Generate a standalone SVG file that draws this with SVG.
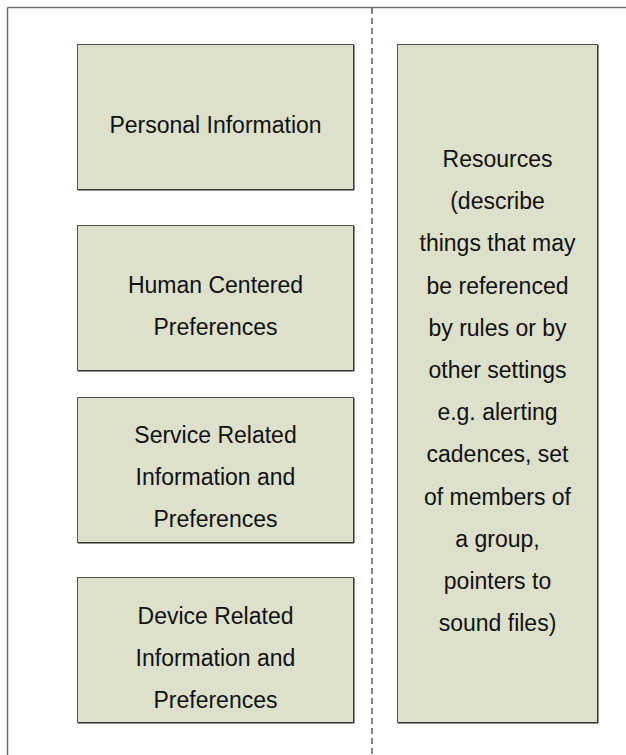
<svg xmlns="http://www.w3.org/2000/svg" width="626" height="755" viewBox="0 0 626 755">
<style>
.box{fill:#dde0cb;stroke:#505050;stroke-width:1}
.shadow{fill:none;stroke:#222;stroke-width:1}
.t{font-family:"Liberation Sans",Arial,sans-serif;font-size:23px;fill:#111;text-anchor:middle}
</style>
<rect width="626" height="755" fill="#fff"/>
<g id="frame">
<line x1="7.5" y1="7.5" x2="626" y2="7.5" stroke="#6e6e6e" stroke-width="1.5"/>
<line x1="7.5" y1="7.5" x2="7.5" y2="755" stroke="#6e6e6e" stroke-width="1.5"/>
</g>
<g id="connectors">
<line x1="372" y1="8" x2="372" y2="755" stroke="#333" stroke-width="1.2" stroke-dasharray="6 4"/>
</g>
<g id="personal">
<rect class="box" x="77.5" y="44.5" width="276" height="145"/>
<polyline class="shadow" points="354,45 354,190 78,190"/>
<text class="t" x="215.5" y="133">Personal Information</text>
</g>
<g id="human">
<rect class="box" x="77.5" y="225.5" width="276" height="145"/>
<polyline class="shadow" points="354,226 354,371 78,371"/>
<text class="t" x="215.5" y="293">Human Centered</text>
<text class="t" x="215.5" y="335">Preferences</text>
</g>
<g id="service">
<rect class="box" x="77.5" y="397.5" width="276" height="145"/>
<polyline class="shadow" points="354,398 354,543 78,543"/>
<text class="t" x="215.5" y="443">Service Related</text>
<text class="t" x="215.5" y="485">Information and</text>
<text class="t" x="215.5" y="527">Preferences</text>
</g>
<g id="device">
<rect class="box" x="77.5" y="577.5" width="276" height="145"/>
<polyline class="shadow" points="354,578 354,723 78,723"/>
<text class="t" x="215.5" y="624">Device Related</text>
<text class="t" x="215.5" y="666">Information and</text>
<text class="t" x="215.5" y="708">Preferences</text>
</g>
<g id="resources">
<rect class="box" x="397.5" y="44.5" width="200" height="678"/>
<polyline class="shadow" points="598,45 598,723 398,723"/>
<text class="t" x="497.5" y="167">Resources</text>
<text class="t" x="497.5" y="209.2">(describe</text>
<text class="t" x="497.5" y="251.4">things that may</text>
<text class="t" x="497.5" y="293.6">be referenced</text>
<text class="t" x="497.5" y="335.8">by rules or by</text>
<text class="t" x="497.5" y="378">other settings</text>
<text class="t" x="497.5" y="420.2">e.g. alerting</text>
<text class="t" x="497.5" y="462.4">cadences, set</text>
<text class="t" x="497.5" y="504.6">of members of</text>
<text class="t" x="497.5" y="546.8">a group,</text>
<text class="t" x="497.5" y="589">pointers to</text>
<text class="t" x="497.5" y="631.2">sound files)</text>
</g>
</svg>
